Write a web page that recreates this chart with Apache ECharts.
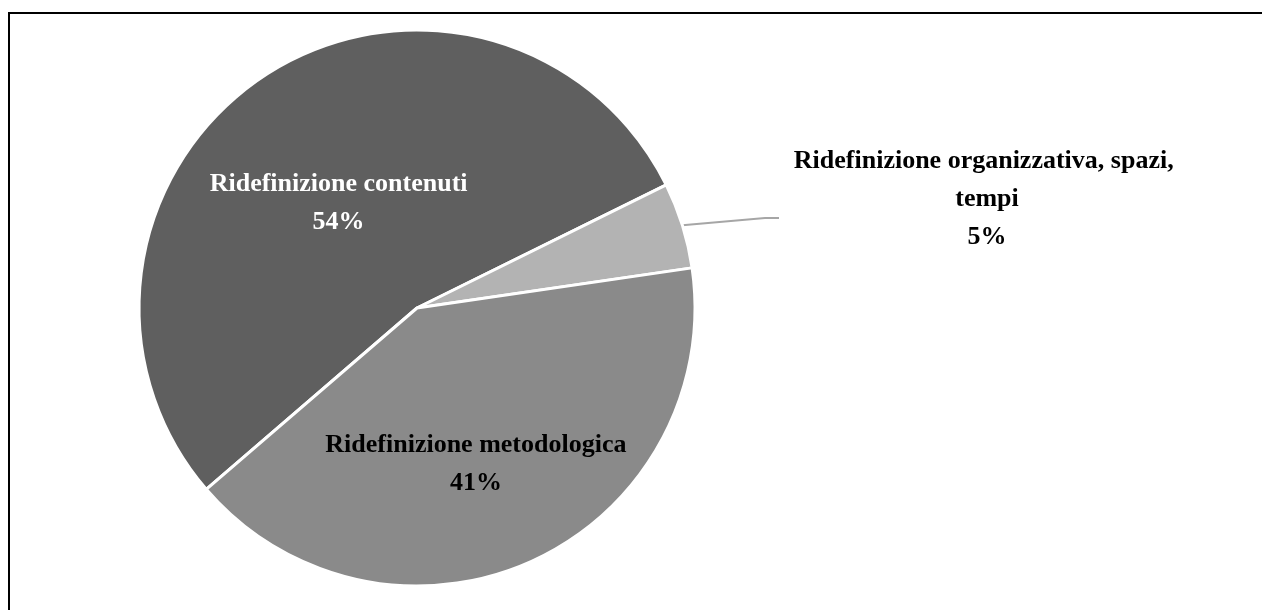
<!DOCTYPE html>
<html>
<head>
<meta charset="utf-8">
<script src="https://cdn.jsdelivr.net/npm/echarts@6/dist/echarts.min.js"></script>
<style>
  html, body { margin: 0; padding: 0; background: #fff; }
  #chart { width: 1262px; height: 610px; }
</style>
</head>
<body>
<div id="chart"></div>
<script>
// Tipologie di ridefinizione (percentuali)
const categories = [
  'Ridefinizione contenuti',
  'Ridefinizione organizzativa, spazi, tempi',
  'Ridefinizione metodologica'
];
const values = [54, 5, 41];
const sliceColors = ['#5f5f5f', '#b3b3b3', '#8a8a8a'];
const labelColors = ['#ffffff', '#000000', '#000000'];

const FONT = "'Liberation Serif', 'Times New Roman', serif";

const chart = echarts.init(document.getElementById('chart'), null, { renderer: 'canvas' });

const data = categories.map((name, i) => {
  const outside = i === 1;
  return {
    name: name,
    value: values[i],
    itemStyle: { color: sliceColors[i] },
    label: outside ? {
      position: 'outside',
      color: labelColors[i],
      width: 416,
      overflow: 'break',
      // an empty trailing row lowers the leader line's attachment point
      formatter: '{b}\n{d}%\n\u00a0'
    } : {
      position: 'inside',
      color: labelColors[i]
    },
    labelLine: {
      show: outside,
      length: 60,
      length2: 14,
      lineStyle: { color: '#a6a6a6', width: 2 }
    }
  };
});

chart.setOption({
  backgroundColor: '#ffffff',
  animation: false,
  graphic: [{
    type: 'rect',
    shape: { x: 9, y: 13, width: 1300, height: 700 },
    style: { fill: 'none', stroke: '#000000', lineWidth: 2 },
    silent: true
  }],
  series: [{
    type: 'pie',
    center: [417, 308],
    radius: 278,
    startAngle: 220.7,
    clockwise: true,
    avoidLabelOverlap: false,
    emphasis: { disabled: true },
    itemStyle: { borderColor: '#ffffff', borderWidth: 3 },
    label: {
      formatter: '{b}\n{d}%',
      fontFamily: FONT,
      fontWeight: 'bold',
      fontSize: 26,
      lineHeight: 38,
      align: 'center'
    },
    labelLayout: function (p) {
      if (p.dataIndex === 0) return { dy: 14 };
      if (p.dataIndex === 2) return { dy: 27 };
      return { x: 987, y: 218, align: 'center', verticalAlign: 'middle' };
    },
    data: data
  }]
});
</script>
</body>
</html>
